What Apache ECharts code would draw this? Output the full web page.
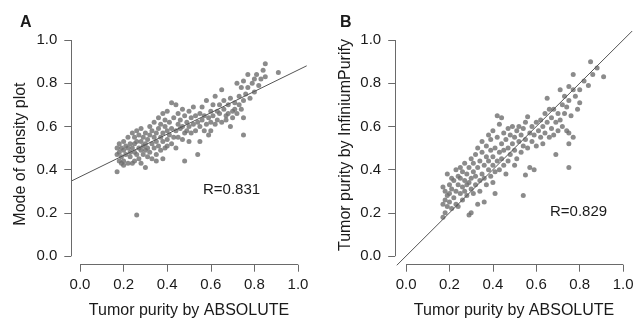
<!DOCTYPE html>
<html>
<head>
<meta charset="utf-8">
<script src="https://cdn.jsdelivr.net/npm/echarts@6/dist/echarts.min.js"></script>
<style>
html,body{margin:0;padding:0;background:#fff;}
#chart{width:635px;height:321px;}
</style>
</head>
<body>
<div id="chart"></div>
<script>
// ---------- data ----------
var tickValues = [0, 0.2, 0.4, 0.6, 0.8, 1.0];
var panelLabels = ['A', 'B'];
var xAxisTitle = 'Tumor purity by ABSOLUTE';
var yAxisTitles = ['Mode of density plot', 'Tumor purity by InfiniumPurify'];
var corrLabels = ['R=0.831', 'R=0.829'];
// regression / reference lines: [intercept, slope]
var lineA = [0.367, 0.494];
var lineB = [0, 1];
// plotting ranges (R style, 4% padding around 0..1)
var xRangeA = [-0.04, 1.04];
var xRangeB = [-0.05, 1.045];
var yRange = [-0.04, 1.04];

var pointsA = [
[0.17,0.39],[0.17,0.47],[0.17,0.50],[0.18,0.44],[0.18,0.52],[0.18,0.48],[0.19,0.43],[0.19,0.50],[0.19,0.46],[0.20,0.49],[0.20,0.53],[0.20,0.44],[0.20,0.42],[0.21,0.47],[0.21,0.51],
[0.22,0.43],[0.22,0.50],[0.22,0.55],[0.23,0.46],[0.23,0.52],[0.23,0.48],[0.24,0.43],[0.24,0.50],[0.24,0.57],[0.25,0.44],[0.25,0.52],[0.25,0.48],[0.25,0.55],[0.26,0.19],[0.26,0.47],[0.26,0.53],[0.26,0.58],[0.27,0.45],[0.27,0.50],[0.27,0.56],[0.28,0.49],[0.28,0.43],[0.28,0.53],[0.28,0.59],[0.29,0.47],[0.29,0.51],[0.29,0.55],[0.30,0.41],[0.30,0.49],[0.30,0.52],[0.30,0.57],[0.31,0.46],[0.31,0.54],[0.31,0.50],
[0.32,0.48],[0.32,0.56],[0.32,0.60],[0.33,0.52],[0.33,0.45],[0.33,0.58],[0.34,0.50],[0.34,0.55],[0.34,0.62],[0.35,0.47],[0.35,0.53],[0.35,0.57],[0.35,0.44],[0.36,0.51],[0.36,0.59],[0.36,0.64],[0.37,0.55],[0.37,0.49],[0.37,0.61],[0.38,0.53],[0.38,0.57],[0.38,0.66],[0.38,0.45],[0.39,0.50],[0.39,0.60],[0.39,0.63],[0.40,0.54],[0.40,0.58],[0.40,0.67],[0.40,0.51],
[0.41,0.56],[0.41,0.62],[0.42,0.71],[0.42,0.52],[0.42,0.59],[0.43,0.64],[0.43,0.55],[0.44,0.70],[0.44,0.58],[0.44,0.50],[0.45,0.61],[0.45,0.66],[0.45,0.55],[0.46,0.59],[0.46,0.63],[0.47,0.54],[0.47,0.68],[0.47,0.60],[0.48,0.57],[0.48,0.65],[0.48,0.44],[0.49,0.62],[0.49,0.58],[0.50,0.60],[0.50,0.67],[0.50,0.53],[0.51,0.64],[0.51,0.57],
[0.52,0.61],[0.52,0.69],[0.53,0.58],[0.53,0.65],[0.54,0.62],[0.54,0.47],[0.55,0.53],[0.55,0.66],[0.55,0.60],[0.56,0.63],[0.56,0.69],[0.57,0.58],[0.57,0.65],[0.58,0.61],[0.58,0.72],[0.59,0.64],[0.59,0.56],[0.60,0.67],[0.60,0.62],[0.60,0.58],[0.61,0.70],[0.61,0.65],
[0.62,0.74],[0.62,0.61],[0.63,0.67],[0.63,0.63],[0.64,0.70],[0.64,0.66],[0.65,0.77],[0.65,0.62],[0.66,0.68],[0.66,0.72],[0.67,0.65],[0.67,0.63],[0.68,0.70],[0.68,0.66],[0.69,0.60],[0.69,0.73],[0.70,0.67],[0.70,0.64],[0.71,0.71],[0.71,0.68],
[0.72,0.80],[0.72,0.66],[0.73,0.74],[0.73,0.70],[0.74,0.78],[0.74,0.68],[0.75,0.64],[0.75,0.56],[0.75,0.81],[0.75,0.72],[0.76,0.75],[0.77,0.84],[0.77,0.78],[0.78,0.73],[0.79,0.80],[0.80,0.76],[0.80,0.82],
[0.81,0.84],[0.82,0.79],[0.83,0.82],[0.84,0.86],[0.85,0.89],[0.85,0.83],[0.91,0.85]
];

var pointsB = [
[0.17,0.18],[0.17,0.24],[0.17,0.32],[0.18,0.20],[0.18,0.26],[0.18,0.30],[0.19,0.38],[0.19,0.23],[0.19,0.28],[0.20,0.25],[0.20,0.33],[0.20,0.29],[0.21,0.36],[0.21,0.22],[0.21,0.31],
[0.22,0.27],[0.22,0.35],[0.23,0.24],[0.23,0.30],[0.23,0.40],[0.24,0.23],[0.24,0.33],[0.24,0.37],[0.25,0.29],[0.25,0.36],[0.25,0.41],[0.26,0.26],[0.26,0.32],[0.26,0.39],[0.27,0.30],[0.27,0.35],[0.27,0.43],[0.28,0.28],[0.28,0.33],[0.28,0.38],[0.29,0.19],[0.29,0.34],[0.29,0.41],[0.30,0.20],[0.30,0.31],[0.30,0.36],[0.30,0.45],[0.31,0.29],[0.31,0.39],[0.31,0.43],
[0.32,0.33],[0.32,0.47],[0.32,0.37],[0.33,0.24],[0.33,0.41],[0.33,0.50],[0.34,0.35],[0.34,0.44],[0.34,0.30],[0.35,0.38],[0.35,0.48],[0.35,0.53],[0.36,0.25],[0.36,0.42],[0.36,0.36],[0.37,0.46],[0.37,0.51],[0.37,0.33],[0.38,0.40],[0.38,0.56],[0.38,0.44],[0.39,0.37],[0.39,0.49],[0.39,0.54],[0.40,0.42],[0.40,0.46],[0.40,0.58],[0.40,0.34],
[0.41,0.29],[0.41,0.50],[0.41,0.39],[0.42,0.65],[0.42,0.44],[0.42,0.55],[0.43,0.48],[0.43,0.40],[0.43,0.61],[0.44,0.64],[0.44,0.52],[0.44,0.45],[0.45,0.42],[0.45,0.57],[0.45,0.49],[0.46,0.54],[0.46,0.38],[0.47,0.50],[0.47,0.59],[0.47,0.44],[0.48,0.56],[0.48,0.47],[0.49,0.52],[0.49,0.60],[0.50,0.42],[0.50,0.55],[0.50,0.49],
[0.51,0.58],[0.51,0.45],[0.52,0.53],[0.52,0.60],[0.53,0.48],[0.53,0.56],[0.54,0.28],[0.54,0.51],[0.54,0.59],[0.55,0.375],[0.55,0.62],[0.55,0.54],[0.56,0.645],[0.56,0.50],[0.57,0.41],[0.57,0.57],[0.58,0.53],[0.58,0.60],[0.59,0.40],[0.59,0.56],[0.60,0.62],[0.60,0.51],[0.61,0.58],
[0.62,0.55],[0.62,0.63],[0.63,0.60],[0.63,0.52],[0.64,0.66],[0.64,0.57],[0.65,0.73],[0.65,0.62],[0.66,0.55],[0.66,0.68],[0.67,0.59],[0.67,0.64],[0.68,0.68],[0.68,0.56],[0.69,0.47],[0.69,0.62],[0.70,0.66],[0.70,0.58],
[0.71,0.77],[0.71,0.63],[0.72,0.70],[0.72,0.60],[0.73,0.66],[0.73,0.74],[0.74,0.58],[0.74,0.69],[0.75,0.785],[0.75,0.57],[0.75,0.52],[0.75,0.41],[0.75,0.72],[0.76,0.65],[0.77,0.77],[0.77,0.55],[0.78,0.74],[0.79,0.68],[0.80,0.77],[0.80,0.71],
[0.77,0.84],[0.82,0.81],[0.84,0.79],[0.85,0.90],[0.86,0.84],[0.88,0.87],[0.91,0.83]
];

// ---------- chart ----------
function linePts(coef, xr){
  return xr.map(function(x){ return [x, coef[0] + coef[1]*x]; });
}
var FONT = '"Liberation Sans", Arial, Helvetica, sans-serif';
var TXT = '#1a1a1a';
var AX = '#6a6a6a';
var t0 = tickValues[0], t1 = tickValues[tickValues.length - 1];

function xAx(i, xr){
  return {
    type:'value', gridIndex:i, min:xr[0], max:xr[1],
    name:xAxisTitle, nameLocation:'middle', nameGap:38,
    nameTextStyle:{fontFamily:FONT, fontSize:16, lineHeight:16, color:TXT},
    axisLine:{show:true, onZero:false, lineStyle:{color:'rgba(255,255,255,0)', width:1}},
    axisTick:{show:true, length:7, customValues:tickValues, lineStyle:{color:AX, width:1}},
    axisLabel:{margin:13, fontFamily:FONT, fontSize:15, color:TXT, customValues:tickValues,
      formatter:function(v){return Number(v).toFixed(1);}},
    splitLine:{show:false}
  };
}
function yAx(i, gap, pad){
  return {
    type:'value', gridIndex:i, min:yRange[0], max:yRange[1],
    name:yAxisTitles[i], nameLocation:'middle', nameGap:gap,
    nameTextStyle:{fontFamily:FONT, fontSize:16, lineHeight:16, color:TXT, padding:pad},
    axisLine:{show:true, onZero:false, lineStyle:{color:'rgba(255,255,255,0)', width:1}},
    axisTick:{show:true, length:7, customValues:tickValues, lineStyle:{color:AX, width:1}},
    axisLabel:{margin:14, fontFamily:FONT, fontSize:15, color:TXT, customValues:tickValues,
      formatter:function(v){return Number(v).toFixed(1);}},
    splitLine:{show:false}
  };
}
// R-style axis lines that span only the tick range, at the plot-region edges
function axisLines(xr){
  return {
    silent:true, symbol:['none','none'], label:{show:false},
    lineStyle:{color:AX, width:1, type:'solid'},
    data:[
      [{coord:[t0, yRange[0]]},{coord:[t1, yRange[0]]}],
      [{coord:[xr[0], t0]},{coord:[xr[0], t1]}]
    ]
  };
}
function txt(text, left, top, size, weight){
  return {text:text, left:left, top:top, padding:0,
    textStyle:{fontFamily:FONT, fontSize:size, fontWeight:weight, color:TXT}};
}

var chart = echarts.init(document.getElementById('chart'));
chart.setOption({
  animation:false,
  backgroundColor:'#fff',
  title:[
    txt(panelLabels[0], 20, 15, 16, 'bold'),
    txt(panelLabels[1], 340, 15, 16, 'bold'),
    txt(corrLabels[0], 203, 182, 15, 'normal'),
    txt(corrLabels[1], 550, 204, 15, 'normal')
  ],
  grid:[
    {left:71.3, top:31.4, width:235.4, height:233.3, outerBoundsMode:'none'},
    {left:395.2, top:31.4, width:237.7, height:233.3, outerBoundsMode:'none'}
  ],
  xAxis:[xAx(0, xRangeA), xAx(1, xRangeB)],
  yAxis:[yAx(0, 43, [0, 12, 0, 0]), yAx(1, 42, [0, 0, 0, 6])],
  series:[
    {type:'scatter', xAxisIndex:0, yAxisIndex:0, data:pointsA, symbolSize:5, clip:false,
      itemStyle:{color:'#6e6e6e'}, markLine:axisLines(xRangeA)},
    {type:'line', xAxisIndex:0, yAxisIndex:0, data:linePts(lineA, xRangeA), showSymbol:false,
      lineStyle:{color:'#555', width:1}},
    {type:'scatter', xAxisIndex:1, yAxisIndex:1, data:pointsB, symbolSize:5, clip:false,
      itemStyle:{color:'#6e6e6e'}, markLine:axisLines(xRangeB)},
    {type:'line', xAxisIndex:1, yAxisIndex:1, data:linePts(lineB, xRangeB), showSymbol:false,
      lineStyle:{color:'#555', width:1}}
  ]
});
</script>
</body>
</html>
